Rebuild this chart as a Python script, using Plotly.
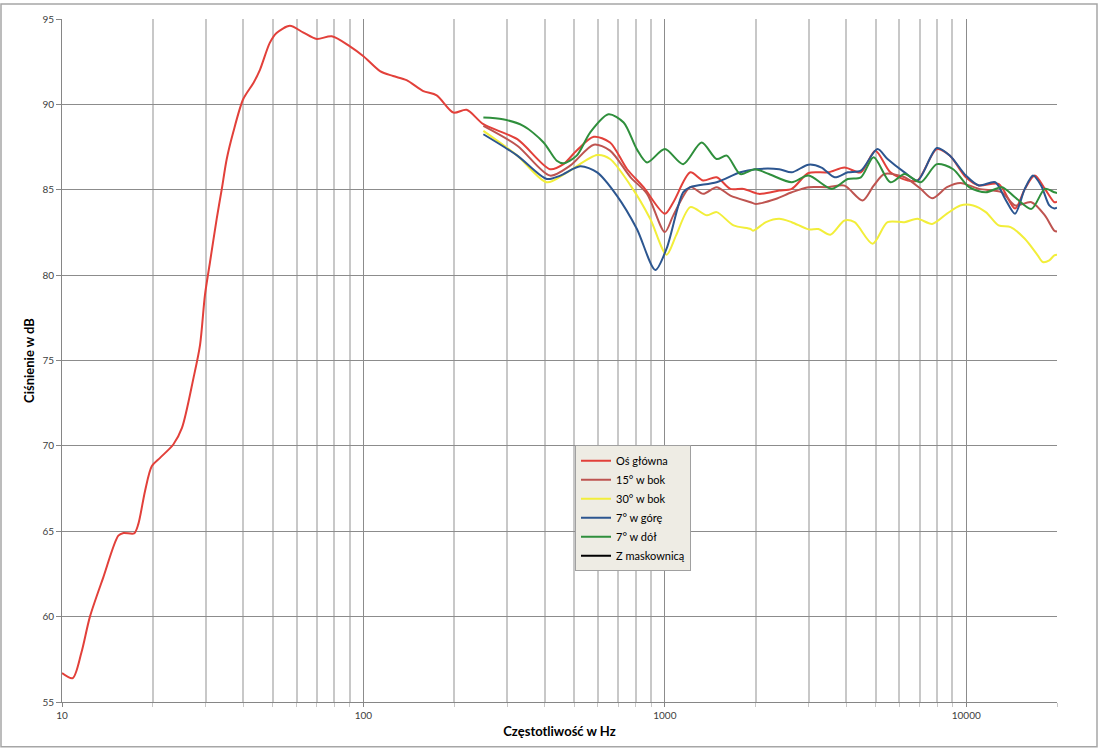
import plotly.graph_objects as go

# ---------------- data ----------------
main_f = [10, 10.85, 11.6, 12.38, 13.71, 15.38, 16.0, 17.34, 17.9, 18.86, 19.85, 21.15, 23.4, 25.0,
          27.3, 28.7, 29.8, 30.98, 32.6, 33.9, 35.2, 36.97, 39.9, 43.2, 45.4, 48.9, 51.5, 57.0,
          63.0, 70.0, 78.5, 90.2, 100, 113.5, 125.5, 139, 158, 175, 198.8, 220, 250,
          324, 416, 461, 510, 581, 658, 750, 850, 1000, 1067, 1215, 1340, 1485, 1650, 1826,
          2050, 2395, 2636, 2997, 3480, 3945, 4470, 4990, 5600, 6400, 6890, 7990, 8830, 9970,
          11020, 12800, 14510, 15640, 16870, 18230, 19600, 20000]
main_db = [56.7, 56.4, 57.9, 60.0, 62.3, 64.74, 64.9, 64.87, 65.4, 67.36, 68.8, 69.3, 70.08, 71.05,
           73.97, 75.9, 78.83, 80.77, 83.3, 85.05, 86.8, 88.35, 90.3, 91.27, 92.04, 93.6, 94.18, 94.6,
           94.22, 93.83, 93.99, 93.4, 92.82, 91.95, 91.66, 91.42, 90.78, 90.53, 89.52, 89.68, 88.84,
           87.96, 86.2, 86.5, 87.3, 88.1, 87.77, 86.2, 85.15, 83.6, 84.27, 86.02, 85.54, 85.73, 85.05, 85.05,
           84.76, 84.95, 85.05, 85.98, 86.02, 86.3, 86.02, 87.29, 86.02, 85.54, 85.54, 87.38, 86.99, 85.73,
           85.25, 85.34, 83.9, 85.05, 85.83, 85.05, 84.27, 84.3]

side15_f = [250, 324, 416, 485, 581, 658, 770, 873, 1000, 1067, 1215, 1340, 1485, 1650, 1925,
            2000, 2330, 2636, 2997, 3480, 3945, 4530, 4930, 5350, 6240, 7060, 7710, 8630, 9560,
            11020, 13130, 14510, 16450, 18230, 19600, 20000]
side15_db = [88.74, 87.58, 85.83, 86.41, 87.64, 87.29, 85.73, 84.76, 82.52, 83.5, 85.15, 84.76, 85.15, 84.66, 84.27,
             84.17, 84.46, 84.85, 85.15, 85.15, 85.24, 84.37, 85.24, 85.92, 85.73, 85.05, 84.5, 85.15, 85.4,
             85.05, 84.85, 84.08, 84.27, 83.5, 82.6, 82.55]

side30_f = [250, 324, 406, 474, 596, 658, 770, 894, 1013, 1090, 1215, 1380, 1485, 1690, 1925,
            1960, 2165, 2395, 2636, 2997, 3230, 3540, 3945, 4260, 4890, 5480, 6240, 6890, 7710, 8630,
            9560, 10540, 11610, 12800, 14030, 15640, 17260, 17940, 18860, 19600, 20000]
side30_db = [88.45, 87.0, 85.44, 86.02, 87.03, 86.8, 85.24, 83.3, 81.2, 82.33, 83.98, 83.5, 83.69, 82.91, 82.7,
             82.6, 83.1, 83.3, 83.1, 82.68, 82.7, 82.36, 83.2, 83.1, 81.84, 83.1, 83.1, 83.3, 83.0, 83.6,
             84.08, 84.08, 83.69, 82.91, 82.81, 82.13, 81.16, 80.77, 80.87, 81.16, 81.2]

up7_f = [250, 324, 406, 450, 524, 596, 693, 807, 930, 1013, 1150, 1215, 1485, 1780, 2000,
         2395, 2636, 2997, 3310, 3660, 4045, 4470, 5075, 5480, 6240, 6890, 7990, 8830, 9970,
         11020, 12480, 13460, 14510, 15640, 16650, 17720, 18860, 19600, 20000]
up7_db = [88.25, 87.0, 85.63, 85.83, 86.37, 86.02, 84.66, 82.72, 80.3, 81.55, 84.85, 85.15, 85.44, 86.02, 86.2,
          86.2, 86.02, 86.47, 86.3, 85.73, 86.02, 86.12, 87.38, 86.8, 86.02, 85.54, 87.44, 86.99, 85.83,
          85.25, 85.44, 84.46, 83.6, 85.05, 85.83, 85.24, 84.08, 83.9, 83.95]

down7_f = [250, 290, 339, 396, 438, 461, 510, 565, 650, 730, 807, 873, 1000, 1150, 1324, 1485,
           1605, 1780, 1990, 2215, 2636, 2997, 3580, 4045, 4470, 4930, 5600, 6240, 7060, 7990,
           9050, 10220, 11610, 13130, 14510, 16450, 18230, 19600, 20000]
down7_db = [89.23, 89.13, 88.74, 87.77, 86.7, 86.55, 87.0, 88.35, 89.42, 88.94, 87.38, 86.6, 87.38, 86.5, 87.77, 86.8,
            87.0, 85.92, 86.2, 85.92, 85.44, 85.83, 85.05, 85.63, 85.73, 86.9, 85.44, 85.92, 85.44, 86.5,
            86.2, 85.15, 84.85, 85.15, 84.56, 83.88, 85.05, 84.85, 84.8]

series_names = ["Oś główna", "15° w bok", "30° w bok", "7° w górę", "7° w dół", "Z maskownicą"]
series_colors = ["#E2403A", "#BE5450", "#F2EE3A", "#2C5690", "#2F8F3C", "#000000"]

x_tickvals = [10, 100, 1000, 10000]
x_ticktext = ["10", "100", "1000", "10000"]
x_minor = [20, 30, 40, 50, 60, 70, 80, 90,
           200, 300, 400, 500, 600, 700, 800, 900,
           2000, 3000, 4000, 5000, 6000, 7000, 8000, 9000, 20000]
y_tickvals = [55, 60, 65, 70, 75, 80, 85, 90, 95]

# ---------------- figure ----------------
fig = go.Figure()
data = [(main_f, main_db), (side15_f, side15_db), (side30_f, side30_db),
        (up7_f, up7_db), (down7_f, down7_db), ([None], [None])]
for (fx, fy), name, col in zip(data, series_names, series_colors):
    fig.add_trace(go.Scatter(x=fx, y=fy, name=name, mode="lines",
                             line=dict(color=col, width=2, shape="spline", smoothing=0.8),
                             showlegend=True))

L, R, T, B = 62, 43, 16, 48
W, H = 1100, 750
pw, ph = W - L - R, H - T - B

fig.update_layout(
    width=W, height=H,
    margin=dict(l=L, r=R, t=T, b=B, pad=0),
    paper_bgcolor="white", plot_bgcolor="white",
    font=dict(family="Lato, 'Open Sans', sans-serif", color="#404040", size=10),
    showlegend=True,
    legend=dict(x=(575 - L) / pw, y=(H - B - 444) / ph, xanchor="left", yanchor="top",
                bgcolor="#EEECE4", bordercolor="#A0A0A0", borderwidth=1,
                font=dict(size=11, color="#000000"), itemwidth=30, tracegroupgap=0),
    xaxis=dict(type="log", range=[1, 4.30103],
               tickvals=x_tickvals, ticktext=x_ticktext,
               ticks="outside", ticklen=4, tickcolor="#868686",
               showgrid=True, gridcolor="#8C8C8C", gridwidth=1,
               minor=dict(tickvals=x_minor, showgrid=True, gridcolor="#C8C8C8", gridwidth=2,
                          ticks="outside", ticklen=4, tickcolor="#C8C8C8"),
               showline=True, linecolor="#868686", linewidth=1,
               tickfont=dict(size=10, color="#404040"),
               title=dict(text="Częstotliwość w Hz", font=dict(size=13, color="#000000",
                          family="Lato, 'Open Sans', sans-serif", weight="bold"), standoff=6),
               zeroline=False),
    yaxis=dict(range=[55, 95], tickvals=y_tickvals,
               ticks="outside", ticklen=5, tickcolor="#868686",
               showgrid=True, gridcolor="#8C8C8C", gridwidth=1,
               showline=True, linecolor="#868686", linewidth=1,
               tickfont=dict(size=10, color="#404040"),
               title=dict(text="Ciśnienie w dB", font=dict(size=13, color="#000000",
                          family="Lato, 'Open Sans', sans-serif", weight="bold"), standoff=4),
               zeroline=False),
)

# outer chart border
fig.add_shape(type="rect", xref="paper", yref="paper",
              x0=(1 - L) / pw, x1=(1097 - L) / pw,
              y0=(H - B - 747) / ph, y1=(H - B - 1) / ph,
              line=dict(color="#A6A6A6", width=1.5), fillcolor="rgba(0,0,0,0)", layer="below")

fig.write_html("out.html", config={"displayModeBar": False},
               post_script="document.body.style.margin='0';document.body.style.overflow='hidden';")
